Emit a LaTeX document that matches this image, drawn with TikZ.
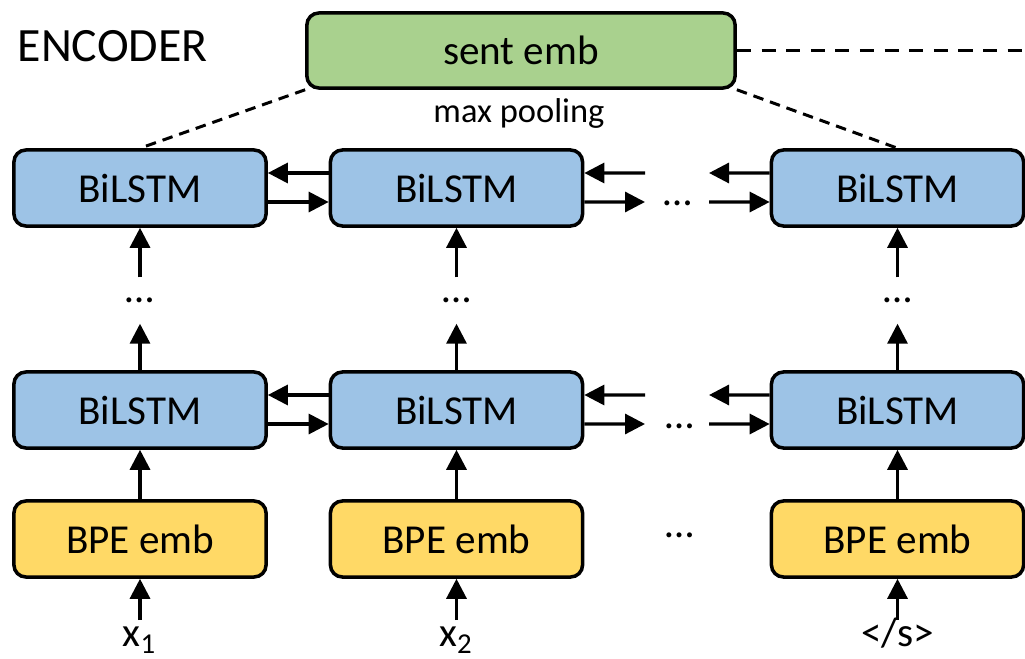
\documentclass[tikz,border=0pt]{standalone}
\usepackage{fontspec}
\setmainfont{Carlito}
\usetikzlibrary{arrows.meta}

\definecolor{lstmblue}{HTML}{9DC3E6}
\definecolor{sentgreen}{HTML}{A9D18E}
\definecolor{bpeyellow}{HTML}{FFD966}

\tikzset{
	box/.style={draw,line width=1pt,rounded corners=0.12cm,minimum width=2.52cm,minimum height=0.76cm,inner sep=0pt,font=\fontsize{11.7}{14}\selectfont},
	lstm/.style={box,fill=lstmblue},
	bpe/.style={box,fill=bpeyellow},
	arr/.style={line width=0.9pt,-{Triangle[length=0.2cm,width=0.2cm]}},
	vdots/.style={inner sep=0pt,minimum height=0.45cm,font=\fontsize{11.7}{14}\selectfont},
	hdots/.style={inner sep=0pt,font=\fontsize{11.7}{14}\selectfont},
	inp/.style={inner sep=0pt,anchor=north,text height=0.26cm,font=\fontsize{11.7}{14}\selectfont}
}

\begin{document}
\begin{tikzpicture}[x=0.01cm,y=-0.01cm]
			
			\useasboundingbox (0,0) rectangle (1025,658);
			
			\node [anchor=base west,inner sep=0pt,font=\fontsize{13.6}{16}\selectfont] (enc) at (17,62) {ENCODER};
			\node [box,fill=sentgreen,minimum width=4.28cm,minimum height=0.75cm] (sent) at (521,50.5) {sent emb};
			\node [anchor=base,inner sep=0pt,font=\fontsize{9.8}{12}\selectfont] (pool) at (519,123) {max pooling};
			
			\node [lstm] (t1) at (140,188) {BiLSTM};
			\node [lstm] (t2) at (456.5,188) {BiLSTM};
			\node [lstm] (t3) at (897.5,188) {BiLSTM};
			
			\node [vdots] (d1) at (140,300.5) {\ldots};
			\node [vdots] (d2) at (456.5,300.5) {\ldots};
			\node [vdots] (d3) at (897.5,300.5) {\ldots};
			
			\node [lstm] (l1) at (140,410) {BiLSTM};
			\node [lstm] (l2) at (456.5,410) {BiLSTM};
			\node [lstm] (l3) at (897.5,410) {BiLSTM};
			
			\node [bpe] (e1) at (140,539) {BPE emb};
			\node [bpe] (e2) at (456.5,539) {BPE emb};
			\node [bpe] (e3) at (897.5,539) {BPE emb};
			
			\node [inp] (x1) at (140,620) {x\textsubscript{1}};
			\node [inp] (x2) at (456.5,620) {x\textsubscript{2}};
			\node [inp] (x3) at (897.5,620) {</s>};
			
			\node [hdots] (td) at (678,203) {\ldots};
			\node [hdots] (ld) at (680,426) {\ldots};
			\node [hdots] (ed) at (680,535) {\ldots};
			
			\coordinate (ta) at (645,173);
			\coordinate (tb) at (645,202);
			\coordinate (tc) at (709,173);
			\coordinate (tf) at (709,202);
			\coordinate (la) at (645,395);
			\coordinate (lb) at (645,424);
			\coordinate (lc) at (709,395);
			\coordinate (lf) at (709,424);
			\coordinate (out) at (1025,50.5);
			
			\draw [line width=1.1pt,dash pattern=on 4pt off 3pt] (sent.east) -- (out);
			\draw [line width=0.85pt,dash pattern=on 3pt off 2pt] (sent.south west) -- (t1.north);
			\draw [line width=0.85pt,dash pattern=on 3pt off 2pt] (sent.south east) -- (t3.north);
			
			\draw [arr] ([yshift=0.15cm]t2.west) -- ([yshift=0.15cm]t1.east);
			\draw [arr] ([yshift=-0.14cm]t1.east) -- ([yshift=-0.14cm]t2.west);
			\draw [arr] (ta) -- ([yshift=0.15cm]t2.east);
			\draw [arr] ([yshift=-0.14cm]t2.east) -- (tb);
			\draw [arr] ([yshift=0.15cm]t3.west) -- (tc);
			\draw [arr] (tf) -- ([yshift=-0.14cm]t3.west);
			
			\draw [arr] ([yshift=0.15cm]l2.west) -- ([yshift=0.15cm]l1.east);
			\draw [arr] ([yshift=-0.14cm]l1.east) -- ([yshift=-0.14cm]l2.west);
			\draw [arr] (la) -- ([yshift=0.15cm]l2.east);
			\draw [arr] ([yshift=-0.14cm]l2.east) -- (lb);
			\draw [arr] ([yshift=0.15cm]l3.west) -- (lc);
			\draw [arr] (lf) -- ([yshift=-0.14cm]l3.west);
			
			\draw [arr] (l1.north) -- (d1.south);
			\draw [arr] (d1.north) -- (t1.south);
			\draw [arr] (l2.north) -- (d2.south);
			\draw [arr] (d2.north) -- (t2.south);
			\draw [arr] (l3.north) -- (d3.south);
			\draw [arr] (d3.north) -- (t3.south);
			
			\draw [arr] (e1.north) -- (l1.south);
			\draw [arr] (e2.north) -- (l2.south);
			\draw [arr] (e3.north) -- (l3.south);
			
			\draw [arr] (x1.north) -- (e1.south);
			\draw [arr] (x2.north) -- (e2.south);
			\draw [arr] (x3.north) -- (e3.south);
		\end{tikzpicture}
\end{document}
